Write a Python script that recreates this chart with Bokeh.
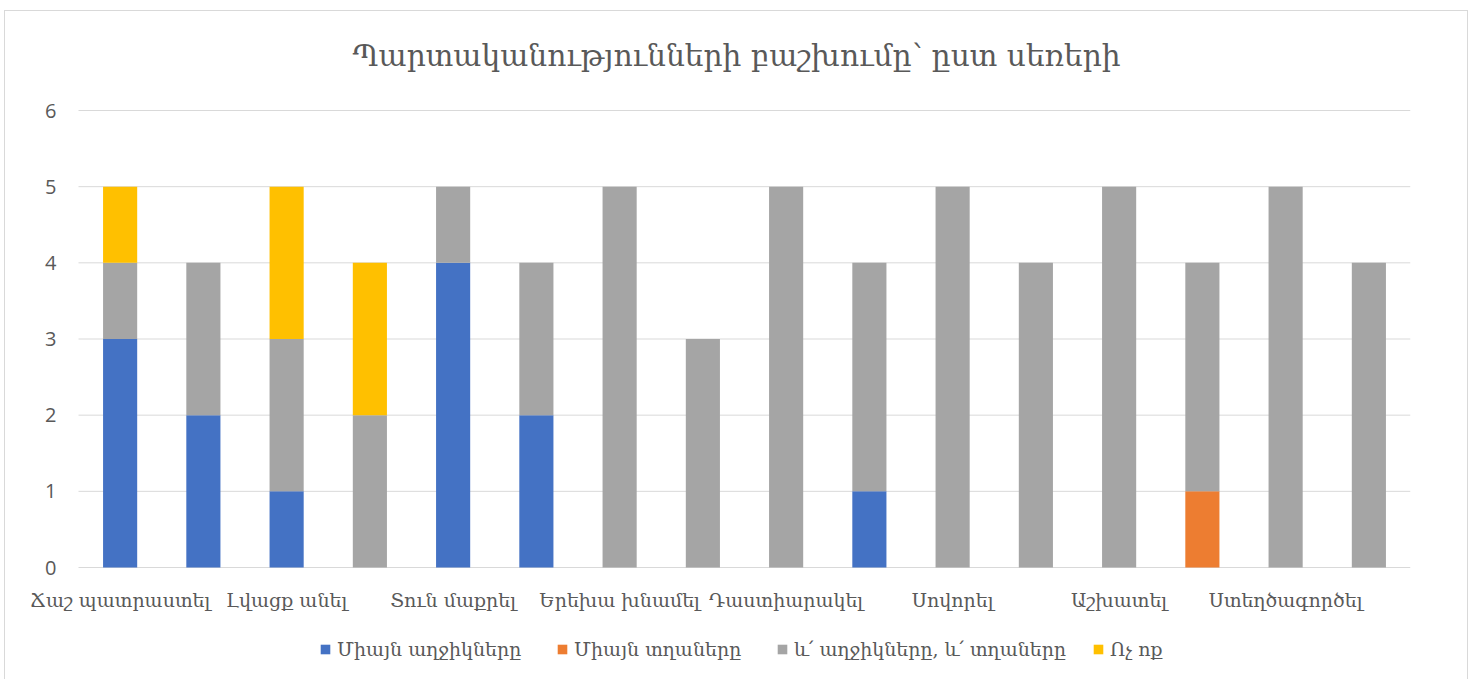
from bokeh.plotting import figure
from bokeh.models import Legend, LegendItem, Title, ColumnDataSource
from bokeh.core.properties import value
from bokeh.embed import file_html
from bokeh.resources import INLINE

title_text = "Պարտականությունների բաշխումը՝ ըստ սեռերի"
# 16 bars; Excel shows only every second category label
labels = ["Ճաշ պատրաստել", "", "Լվացք անել", "", "Տուն մաքրել", "", "Երեխա խնամել", "",
          "Դաստիարակել", "", "Սովորել", "", "Աշխատել", "", "Ստեղծագործել", ""]
series = ["Միայն աղջիկները", "Միայն տղաները", "և՛ աղջիկները, և՛ տղաները", "Ոչ ոք"]
colors = ["#4472C4", "#ED7D31", "#A5A5A5", "#FFC000"]

only_girls = [3, 2, 1, 0, 4, 2, 0, 0, 0, 1, 0, 0, 0, 0, 0, 0]
only_boys  = [0, 0, 0, 0, 0, 0, 0, 0, 0, 0, 0, 0, 0, 1, 0, 0]
both       = [1, 2, 2, 2, 1, 2, 5, 3, 5, 3, 5, 4, 5, 3, 5, 4]
nobody     = [1, 0, 2, 2, 0, 0, 0, 0, 0, 0, 0, 0, 0, 0, 0, 0]
y_ticks = [0, 1, 2, 3, 4, 5, 6]

n = len(labels)
xs = list(range(n))
keys = ["s0", "s1", "s2", "s3"]
source = ColumnDataSource(dict(x=xs, s0=only_girls, s1=only_boys, s2=both, s3=nobody))

FONT_ARM = "DejaVu Serif"
FONT_NUM = "Open Sans"
TXT = "#595959"
GRID = "#d9d9d9"

# ---- layout in pixels ----
PLOT_W = 1332           # width of the bar area (16 slots)
VAL_PX = 457            # height of the 0..6 value span
PAD_L = 63              # room left of the bar area for the value labels
PAD_T = 14              # room above the value 6 line
PAD_B = 112             # room below zero for category labels + legend
px_x = PLOT_W / n
px_y = VAL_PX / 6.0

x_start = -0.5 - PAD_L / px_x
y_start = 0 - PAD_B / px_y
y_end = 6 + PAD_T / px_y

p = figure(frame_width=PLOT_W + PAD_L, frame_height=VAL_PX + PAD_T + PAD_B,
           x_range=(x_start, n - 0.5), y_range=(y_start, y_end),
           output_backend="svg", toolbar_location=None,
           min_border_left=10, min_border_right=57, min_border_top=84, min_border_bottom=0)
p.styles = {"border": "1px solid #d9d9d9", "margin-left": "4px", "margin-top": "10px"}
p.outline_line_color = None
p.background_fill_color = "white"
p.xaxis.visible = False
p.yaxis.visible = False
p.xgrid.grid_line_color = None
p.ygrid.grid_line_color = None

# value gridlines (the zero line doubles as the category axis line)
p.segment(x0=[-0.5] * len(y_ticks), x1=[n - 0.5] * len(y_ticks), y0=y_ticks, y1=y_ticks,
          line_color=GRID, line_width=1)

# value tick labels
p.text(x=[-0.5 - 22 / px_x] * len(y_ticks), y=y_ticks, text=[str(t) for t in y_ticks],
       text_font=value(FONT_NUM), text_font_size=value("20px"), text_color=TXT,
       text_align="right", text_baseline="middle")

renderers = p.vbar_stack(keys, x="x", width=0.41, color=colors, line_color=None, source=source)

p.add_layout(Title(text=title_text, align="left", offset=337, text_font=FONT_ARM,
                   text_font_size="29.7px", text_color=TXT, text_font_style="normal",
                   standoff=48), "above")

# category labels under the zero line
shown = [i for i, s in enumerate(labels) if s]
p.text(x=shown, y=[-32 / px_y] * len(shown), text=[labels[i] for i in shown],
       text_font=value(FONT_ARM), text_font_size=value("19px"), text_color=TXT,
       text_align="center", text_baseline="middle")

# legend: one box per entry, under the category labels
legend_x = [304, 541, 761, 1077]
for i in range(4):
    lg = Legend(items=[LegendItem(label=series[i], renderers=[renderers[i]])],
                orientation="horizontal", location=(legend_x[i], 19),
                label_text_font=FONT_ARM, label_text_font_size="19px", label_text_color=TXT,
                glyph_width=12, glyph_height=12, label_standoff=6,
                border_line_color=None, background_fill_alpha=0, margin=0, padding=0)
    p.add_layout(lg, "center")

open("out.html", "w").write(file_html(p, INLINE))
